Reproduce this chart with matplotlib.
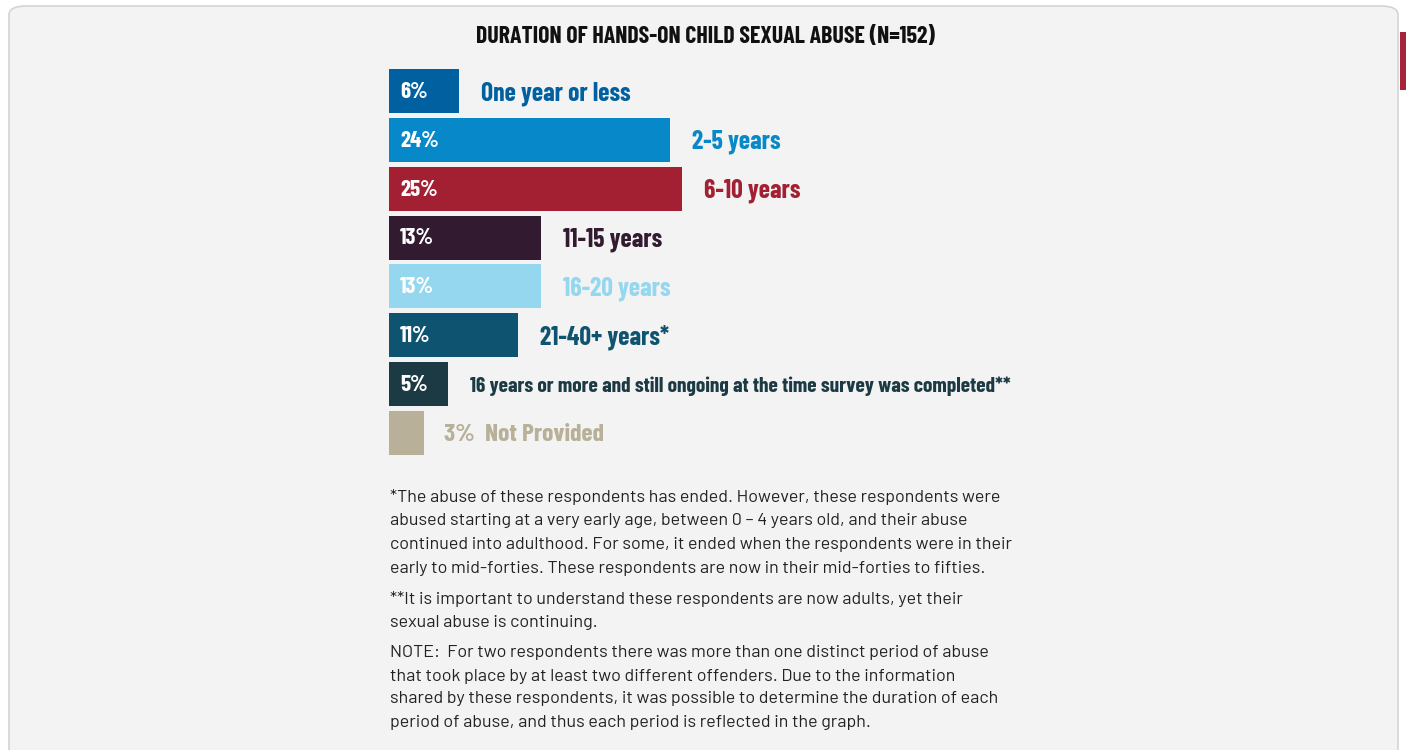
import matplotlib.pyplot as plt
from matplotlib.patches import FancyBboxPatch, Rectangle

categories = ["One year or less", "2-5 years", "6-10 years", "11-15 years", "16-20 years",
              "21-40+ years*", "16 years or more and still ongoing at the time survey was completed**",
              "Not Provided"]
values = [6, 24, 25, 13, 13, 11, 5, 3]
colors = ["#0060a0", "#0789c9", "#a32033", "#321a30", "#95d7ee", "#0e5470", "#1c3a44", "#b8b098"]

title = "DURATION OF HANDS-ON CHILD SEXUAL ABUSE (N=152)"
notes = [
    "*The abuse of these respondents has ended. However, these respondents were",
    "abused starting at a very early age, between 0 \u2013 4 years old, and their abuse",
    "continued into adulthood. For some, it ended when the respondents were in their",
    "early to mid-forties. These respondents are now in their mid-forties to fifties.",
    "**It is important to understand these respondents are now adults, yet their",
    "sexual abuse is continuing.",
    "NOTE:  For two respondents there was more than one distinct period of abuse",
    "that took place by at least two different offenders. Due to the information",
    "shared by these respondents, it was possible to determine the duration of each",
    "period of abuse, and thus each period is reflected in the graph.",
]
note_y = [497, 521, 545, 568, 599, 622, 653, 676, 699, 722]

W, H = 1406, 750
narrow = ["Barlow Condensed", "Roboto Condensed", "Liberation Sans Narrow", "DejaVu Sans"]
plain = ["Barlow", "Roboto", "Liberation Sans", "DejaVu Sans"]

fig = plt.figure(figsize=(W / 100, H / 100), dpi=100)
fig.patch.set_facecolor("white")

# panel background
panel = FancyBboxPatch((9 / W, -0.05), 1389 / W, 1 - 6 / H + 0.05,
                       boxstyle="round,pad=0,rounding_size=0.012",
                       transform=fig.transFigure, facecolor="#f2f3f2",
                       edgecolor="#d4d4d4", linewidth=1.2, zorder=-2)
fig.patches.append(panel)
fig.patches.append(Rectangle((1400 / W, 1 - 90 / H), 6 / W, 58 / H,
                             transform=fig.transFigure, facecolor="#a8233a", zorder=-1))

fig.text(705 / W, 1 - 37 / H, title, ha="center", va="center",
         fontsize=17.2, fontweight="bold", family=narrow, color="#111111")

# bars
ax_left, ax_top, ax_bot = 389, 67, 457
px_per_unit = 11.7
xmax = 60
ax = fig.add_axes([ax_left / W, 1 - ax_bot / H, xmax * px_per_unit / W, (ax_bot - ax_top) / H])
ax.set_xlim(0, xmax)
ax.set_ylim(len(values) - 0.5, -0.5)
ax.axis("off")

pos = list(range(len(values)))
ax.barh(pos, values, height=0.9, color=colors)

for i, (v, c, lab) in enumerate(zip(values, colors, categories)):
    if i == len(values) - 1:
        ax.annotate(f"{v}%  {lab}", (v, i), xytext=(14, -1.5), textcoords="offset points",
                    va="center", ha="left", fontsize=18.4, fontweight="bold", family=narrow, color=c)
        continue
    ax.annotate(f"{v}%", (0, i), xytext=(8, -0.5), textcoords="offset points",
                va="center", ha="left", fontsize=16.5, fontweight="bold", family=narrow, color="white")
    fs = 15.4 if len(lab) > 30 else 18.5
    ax.annotate(lab, (v, i), xytext=(16, -1.5), textcoords="offset points",
                va="center", ha="left", fontsize=fs, fontweight="bold", family=narrow, color=c)

for line, y in zip(notes, note_y):
    fig.text(390 / W, 1 - y / H, line, ha="left", va="center", fontsize=12.9,
             family=plain, color="#222222")

fig.savefig("out.png", dpi=100, facecolor="white")
